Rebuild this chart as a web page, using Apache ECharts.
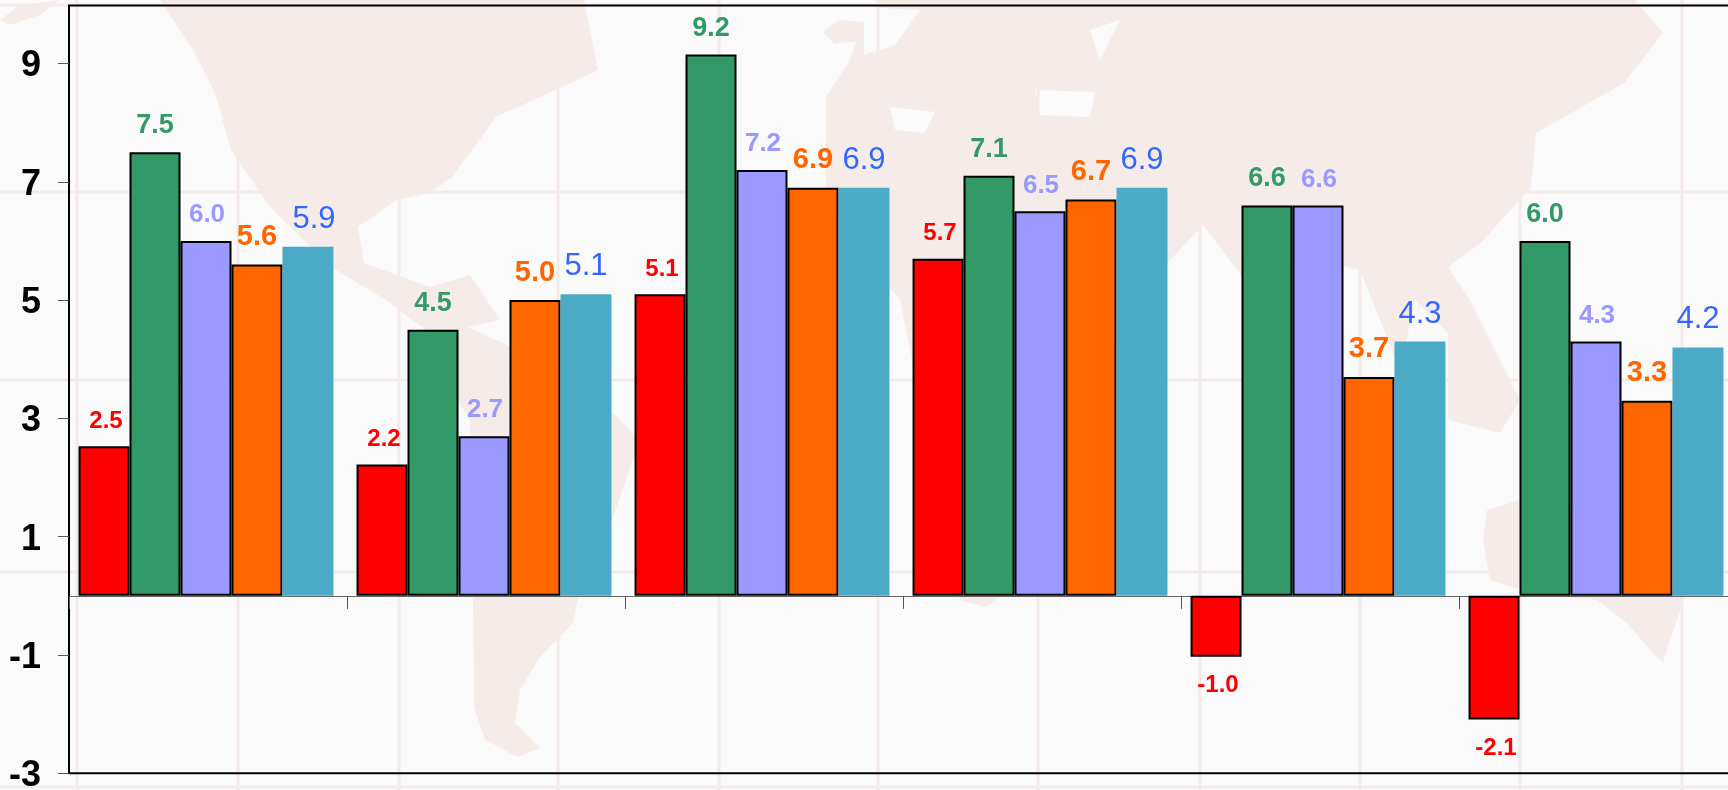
<!DOCTYPE html>
<html>
<head>
<meta charset="utf-8">
<style>html,body{margin:0;padding:0;background:#fafafa;overflow:hidden}#c{width:1737px;height:790px}</style>
<script src="https://cdn.jsdelivr.net/npm/echarts@6/dist/echarts.min.js"></script>
</head>
<body>
<div id="c"></div>
<script>
const categories = ['Group 1', 'Group 2', 'Group 3', 'Group 4', 'Group 5', 'Group 6'];
const redValues = [2.53, 2.22, 5.1, 5.7, -1.03, -2.09];
const greenValues = [7.5, 4.5, 9.15, 7.1, 6.6, 6.0];
const purpleValues = [6.0, 2.7, 7.2, 6.5, 6.6, 4.3];
const orangeValues = [5.6, 5.0, 6.9, 6.7, 3.7, 3.3];
const tealValues = [5.9, 5.1, 6.9, 6.9, 4.3, 4.2];
const yTicks = [-3, -1, 1, 3, 5, 7, 9];

// Faint world-map backdrop (decoration only, not data)
const landColor = '#f5ece9';
const seaColor = '#fafafa';
const gridColor = '#f4ebe9';
const meridians = [77, 238, 399, 558, 719, 878, 1038, 1200, 1360, 1520, 1682];
const parallels = [5, 192, 380, 572, 787];
const land = [
  [[160,0],[193,50],[215,93],[231,150],[270,207],[331,267],[386,300],[430,333],[440,372],[470,420],[474,673],[474,707],[485,740],[518,757],[540,748],[515,723],[520,690],[540,657],[573,623],[578,597],[612,520],[640,440],[600,400],[540,360],[468,327],[500,320],[470,275],[430,287],[364,263],[358,227],[397,200],[430,193],[452,177],[496,117],[562,87],[598,70],[584,0]],
  [[826,97],[850,60],[864,20],[880,0],[1635,0],[1663,33],[1624,83],[1536,133],[1531,187],[1481,243],[1448,267],[1470,300],[1520,400],[1500,433],[1448,420],[1448,333],[1415,300],[1400,370],[1360,270],[1300,255],[1260,300],[1203,225],[1170,260],[1130,300],[1100,400],[1060,500],[1010,590],[985,607],[960,600],[925,500],[920,400],[900,300],[850,240],[826,200]],
  [[1483,540],[1487,510],[1520,500],[1700,520],[1684,600],[1670,640],[1663,663],[1650,650],[1627,623],[1597,600],[1560,597],[1520,590],[1490,580]],
  [[822,32],[840,20],[864,22],[862,40],[835,44]],
  [[0,20],[20,5],[60,0],[40,15],[10,25]]
];
const seas = [
  [[1035,90],[1095,92],[1090,117],[1040,115]],
  [[890,107],[935,112],[925,133],[895,130]],
  [[864,7],[920,10],[895,45],[864,55]],
  [[1090,30],[1120,20],[1100,60]]
];

const backdrop = [];
land.forEach(p => backdrop.push({type:'polygon', z:-3, silent:true, shape:{points:p}, style:{fill:landColor}}));
seas.forEach(p => backdrop.push({type:'polygon', z:-3, silent:true, shape:{points:p}, style:{fill:seaColor}}));
meridians.forEach(x => backdrop.push({type:'line', z:-2, silent:true, shape:{x1:x,y1:0,x2:x,y2:790}, style:{stroke:gridColor,lineWidth:3}}));
parallels.forEach(y => backdrop.push({type:'line', z:-2, silent:true, shape:{x1:0,y1:y,x2:1737,y2:y}, style:{stroke:gridColor,lineWidth:3}}));

const labelNudge = {'Teal-0': [6, 0]};

function makeSeries(name, values, color, labelColor, size, weight, distance, border, dx) {
  return {
    name, type: 'bar', barGap: 0, barCategoryGap: '8.3%', xAxisIndex: 1, yAxisIndex: 1,
    itemStyle: {color, borderColor: border ? '#000' : color, borderWidth: border ? 2 : 0},
    data: values.map((v, i) => ({
      value: v,
      label: {
        show: true, position: v < 0 ? 'bottom' : 'top', distance: v < 0 ? distance + 4 : distance,
        offset: labelNudge[name + '-' + i] || [dx, 0],
        color: labelColor, fontFamily: 'Liberation Sans', fontSize: size, fontWeight: weight,
        formatter: () => v.toFixed(1)
      }
    })),
    animation: false
  };
}

const chart = echarts.init(document.getElementById('c'), null, {renderer: 'canvas'});
chart.setOption({
  backgroundColor: seaColor,
  animation: false,
  graphic: {elements: backdrop},
  grid: [
    {left: 69, top: 5.5, bottom: 16.7, right: 0, outerBoundsMode: 'none', show: true, borderColor: '#000', borderWidth: 2, backgroundColor: 'transparent'},
    {left: 67, top: 5.5, bottom: 16.7, right: 2, outerBoundsMode: 'none'}
  ],
  xAxis: [
    {
      gridIndex: 0, type: 'category', data: categories,
      axisLine: {onZero: true, lineStyle: {color: '#666', width: 1}},
      axisTick: {show: true, length: 13, lineStyle: {color: '#555', width: 1}},
      axisLabel: {show: false}
    },
    {gridIndex: 1, type: 'category', data: categories, show: false}
  ],
  yAxis: [
    {
      gridIndex: 0, type: 'value', min: -3, max: 9.98,
      splitLine: {show: false},
      axisLine: {show: false},
      axisTick: {show: true, length: 11, customValues: yTicks, lineStyle: {color: '#555', width: 1}},
      axisLabel: {
        show: true, customValues: yTicks, margin: 28, showMinLabel: true, showMaxLabel: true,
        verticalAlign: 'top', lineHeight: 6,
        color: '#000', fontFamily: 'Liberation Sans', fontSize: 36, fontWeight: 'bold'
      }
    },
    {gridIndex: 1, type: 'value', min: -3, max: 9.98, show: false, splitLine: {show: false}}
  ],
  series: [
    makeSeries('Red', redValues, '#ff0000', '#ff0000', 24, 'bold', 13, true, 2),
    makeSeries('Green', greenValues, '#339966', '#339966', 27, 'bold', 13, true, 0),
    makeSeries('Purple', purpleValues, '#9999ff', '#9999ff', 26, 'bold', 13, true, 1),
    makeSeries('Orange', orangeValues, '#ff6600', '#ff6600', 29, 'bold', 13, true, 0),
    makeSeries('Teal', tealValues, '#4babc6', '#3366ff', 31, 'normal', 12, false, 0)
  ]
});
</script>
</body>
</html>
